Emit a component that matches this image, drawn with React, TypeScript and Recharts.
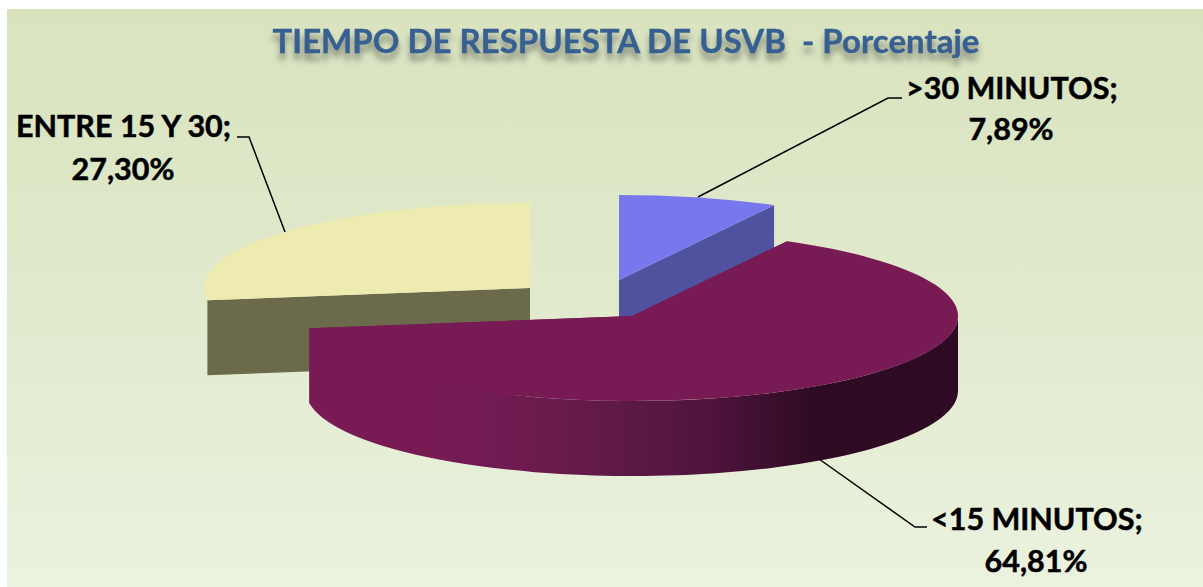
import { Pie, PieChart } from "recharts";

const categories = ["ENTRE 15 Y 30", ">30 MINUTOS", "<15 MINUTOS"];
const percentages = [27.3, 7.89, 64.81];

const data = categories.map((name, i) => ({ name, value: percentages[i] }));

// blue slice starts at 12 o'clock, yellow is drawn first so purple lands on top
const START_ANGLE = 90 + (percentages[0] / 100) * 360;
const SQUASH = 85 / 326;
const DEPTH = 75;
const RAD = Math.PI / 180;

const sliceStyles: Record<string, any> = {
  "ENTRE 15 Y 30": {
    dx: -102, dy: -28, top: "#eeebb0", side: "#6b6b4c", wall: null,
    leader: "237,137 249,137 285,232",
    line1: { x: 16, y: 137 }, line2: { x: 123, y: 180 },
  },
  ">30 MINUTOS": {
    dx: -13, dy: -36, top: "#7878ee", side: "#5052a0", wall: "#5052a0",
    leader: "698,197 888,98 902,98",
    line1: { x: 906, y: 99 }, line2: { x: 1011, y: 140 },
  },
  "<15 MINUTOS": {
    dx: 0, dy: 0, top: "#781b55", side: "#781b55", wall: "url(#wallFill)",
    leader: "819,459 915,527 927,527",
    line1: { x: 931, y: 530 }, line2: { x: 1036, y: 572 },
  },
};

const visibleWall = (start: number, end: number) => {
  // part of the rim that faces the viewer (sin <= 0)
  for (const k of [0, -360]) {
    const lo = Math.max(end, 180 + k);
    const hi = Math.min(start, 360 + k);
    if (hi > lo) return [hi, lo];
  }
  return null;
};

function Slice3D(props: any) {
  const { cx, cy, outerRadius, startAngle, endAngle, name } = props;
  const s = sliceStyles[name];
  const rx = outerRadius;
  const ry = outerRadius * SQUASH;
  const ox = cx + s.dx;
  const oy = cy + s.dy;
  const pt = (a: number) => [ox + rx * Math.cos(a * RAD), oy - ry * Math.sin(a * RAD)];
  const [x1, y1] = pt(startAngle);
  const [x2, y2] = pt(endAngle);
  const large = Math.abs(startAngle - endAngle) > 180 ? 1 : 0;
  const topPath = `M${ox},${oy} L${x1},${y1} A${rx},${ry} 0 ${large} 1 ${x2},${y2} Z`;
  const cut = (x: number, y: number) =>
    `M${ox},${oy} L${x},${y} L${x},${y + DEPTH} L${ox},${oy + DEPTH} Z`;
  const range = s.wall ? visibleWall(startAngle, endAngle) : null;
  let wallPath = "";
  if (range) {
    const [a, b] = pt(range[0]);
    const [c, d] = pt(range[1]);
    const big = range[0] - range[1] > 180 ? 1 : 0;
    wallPath = `M${a},${b} A${rx},${ry} 0 ${big} 1 ${c},${d} L${c},${d + DEPTH} A${rx},${ry} 0 ${big} 0 ${a},${b + DEPTH} Z`;
  }
  return (
    <g>
      <path d={cut(x1, y1)} fill={s.side} />
      <path d={cut(x2, y2)} fill={s.side} />
      {wallPath && <path d={wallPath} fill={s.wall} />}
      <path d={topPath} fill={s.top} />
    </g>
  );
}

function SliceLabel(props: any) {
  const { name, value } = props;
  const s = sliceStyles[name];
  const font = {
    fontFamily: "Lato, sans-serif",
    fontWeight: 700,
    fontSize: 30.5,
    fill: "#000",
    stroke: "#000",
    strokeWidth: 0.5,
  };
  return (
    <g>
      <polyline points={s.leader} fill="none" stroke="#000" strokeWidth={1.5} />
      <text x={s.line1.x} y={s.line1.y} textAnchor="start" {...font}>{`${name};`}</text>
      <text x={s.line2.x} y={s.line2.y} textAnchor="middle" {...font}>
        {`${value.toFixed(2).replace(".", ",")}%`}
      </text>
    </g>
  );
}

export default function App() {
  return (
    <div style={{ position: "absolute", left: 0, top: 0, width: 1203, height: 587, background: "#fff" }}>
      <div
        style={{
          position: "absolute", left: 7, top: 9, width: 1196, height: 578,
          background: "linear-gradient(180deg, #d9e3be 0%, #dfe8c9 40%, #ebf2df 100%)",
        }}
      />
      <div style={{ position: "absolute", left: 0, top: 0 }}>
        <PieChart width={1203} height={587} margin={{ top: 0, right: 0, bottom: 0, left: 0 }}>
          <defs>
            <linearGradient id="wallFill" x1="0" y1="0" x2="1" y2="0">
              <stop offset="0.18" stopColor="#781b55" />
              <stop offset="0.32" stopColor="#6f1b50" />
              <stop offset="0.45" stopColor="#611a48" />
              <stop offset="0.61" stopColor="#50143f" />
              <stop offset="0.78" stopColor="#2e0b22" />
              <stop offset="1" stopColor="#2e0a24" />
            </linearGradient>
          </defs>
          <text
            x={626}
            y={53}
            textAnchor="middle"
            fontFamily="Lato, sans-serif"
            fontWeight={700}
            fontSize={33}
            fill="#376092"
            stroke="#376092"
            strokeWidth={0.4}
            style={{ filter: "drop-shadow(0 7px 3px rgba(60,60,60,0.55))" }}
          >
            TIEMPO DE RESPUESTA DE USVB{"\u00a0\u00a0"}- Porcentaje
          </text>
          <Pie
            data={data}
            dataKey="value"
            nameKey="name"
            cx={632}
            cy={316}
            outerRadius={326}
            startAngle={START_ANGLE}
            endAngle={START_ANGLE - 360}
            shape={Slice3D}
            label={SliceLabel}
            labelLine={false}
            stroke="none"
            isAnimationActive={false}
          />
        </PieChart>
      </div>
    </div>
  );
}
